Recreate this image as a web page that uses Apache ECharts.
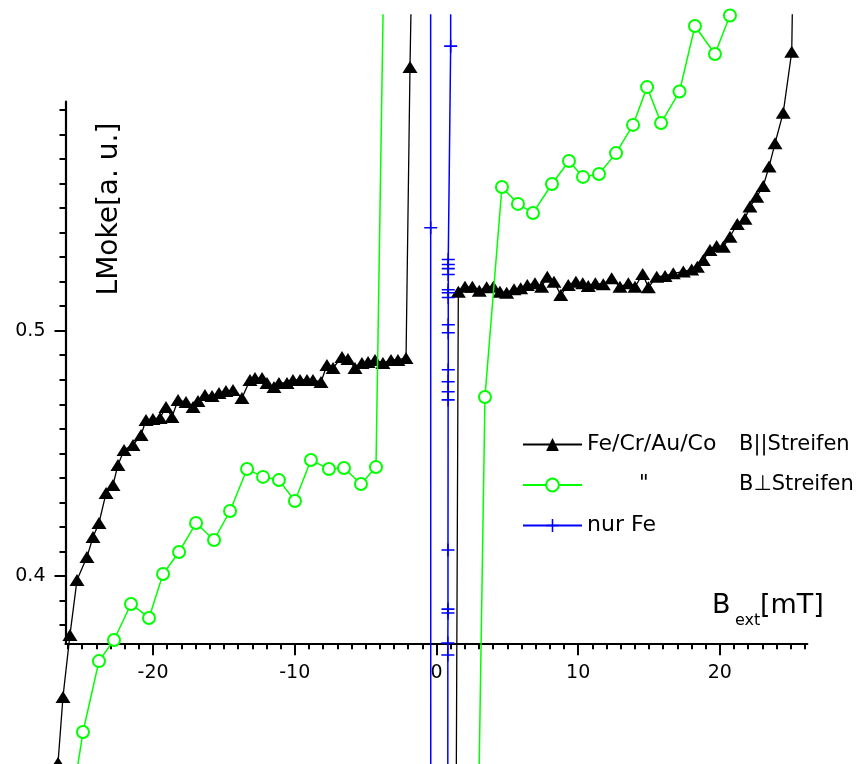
<!DOCTYPE html>
<html><head><meta charset="utf-8">
<script src="https://cdn.jsdelivr.net/npm/echarts@6/dist/echarts.min.js"></script>
<style>html,body{margin:0;padding:0;background:#fff}#c{width:859px;height:764px}</style>
</head><body><div id="c"></div>
<script>
// ---------- data ----------
// Fe/Cr/Au/Co, B || Streifen : branch at negative field
const fecrLeftX = [-28.33, -26.71, -26.36, -25.87, -25.37, -24.67, -24.24, -23.82, -23.32, -22.83, -22.48, -22.05, -21.42, -20.85, -20.50, -20.01, -19.51, -19.09, -18.67, -18.24, -17.68, -17.18, -16.83, -16.34, -15.84, -15.35, -14.86, -14.36, -13.73, -13.16, -12.81, -12.31, -11.96, -11.47, -11.12, -10.55, -10.13, -9.63, -9.14, -8.72, -8.15, -7.73, -7.30, -6.67, -6.25, -5.75, -5.26, -4.83, -4.34, -3.78, -3.21, -2.72, -2.15, -1.87, -1.59];
const fecrLeftY = [0.20, 0.3238, 0.3507, 0.3759, 0.3984, 0.4077, 0.4159, 0.4216, 0.4338, 0.4371, 0.4453, 0.4514, 0.4534, 0.4575, 0.4636, 0.4640, 0.4644, 0.4689, 0.4648, 0.4717, 0.4709, 0.4689, 0.4713, 0.4738, 0.4734, 0.4746, 0.4754, 0.4758, 0.4726, 0.4799, 0.4807, 0.4807, 0.4787, 0.4770, 0.4787, 0.4787, 0.4799, 0.4799, 0.4799, 0.4799, 0.4791, 0.4860, 0.4848, 0.4893, 0.4885, 0.4848, 0.4868, 0.4872, 0.4881, 0.4868, 0.4881, 0.4881, 0.4889, 0.6075, 0.70];
// Fe/Cr/Au/Co, B || Streifen : branch at positive field
const fecrRightX = [1.31, 1.54, 2.01, 2.53, 3.02, 3.54, 4.01, 4.48, 4.95, 5.47, 5.94, 6.41, 6.95, 7.42, 7.82, 8.29, 8.77, 9.30, 9.84, 10.32, 10.71, 11.21, 11.77, 12.36, 12.95, 13.54, 14.01, 14.55, 14.95, 15.54, 16.13, 16.71, 17.42, 18.01, 18.41, 18.83, 19.30, 19.77, 20.24, 20.71, 21.23, 21.77, 22.12, 22.60, 23.06, 23.47, 23.89, 24.47, 25.07, 25.29];
const fecrRightY = [0.20, 0.5159, 0.5179, 0.5179, 0.5163, 0.5177, 0.5179, 0.5159, 0.5155, 0.5169, 0.5173, 0.5186, 0.5193, 0.5179, 0.5220, 0.5200, 0.5146, 0.5186, 0.5200, 0.5193, 0.5182, 0.5193, 0.5189, 0.5214, 0.5179, 0.5193, 0.5179, 0.5231, 0.5177, 0.5220, 0.5223, 0.5234, 0.5241, 0.5250, 0.5261, 0.5288, 0.5329, 0.5345, 0.5342, 0.5383, 0.5435, 0.5456, 0.5506, 0.5546, 0.5590, 0.5669, 0.5764, 0.5889, 0.6137, 0.70];
// Fe/Cr/Au/Co, B ⊥ Streifen
const perpLeftX = [-28.64, -24.95, -23.82, -22.76, -21.56, -20.29, -19.30, -18.17, -16.97, -15.70, -14.57, -13.37, -12.24, -11.12, -9.99, -8.86, -7.59, -6.53, -5.33, -4.27, -3.58];
const perpLeftY = [0.20, 0.3364, 0.3653, 0.3739, 0.3886, 0.3829, 0.4008, 0.4098, 0.4216, 0.4147, 0.4265, 0.4436, 0.4404, 0.4391, 0.4306, 0.4473, 0.4436, 0.4440, 0.4375, 0.4444, 0.70];
const perpRightX = [2.68, 3.42, 4.62, 5.75, 6.81, 8.15, 9.35, 10.34, 11.47, 12.67, 13.87, 14.86, 15.85, 17.15, 18.24, 19.65, 20.71];
const perpRightY = [0.20, 0.4730, 0.5586, 0.5517, 0.5480, 0.5598, 0.5692, 0.5627, 0.5639, 0.5724, 0.5839, 0.5993, 0.5847, 0.5975, 0.6242, 0.6128, 0.6285];
// nur Fe
const feX = [-0.42, -0.41, -0.40, 0.79, 0.80, 0.80, 0.81, 0.81, 0.81, 0.82, 0.82, 0.82, 0.83, 0.83, 0.83, 0.83, 0.83, 0.83, 0.83, 0.83, 0.83, 0.83, 1.00, 1.00];
const feY = [0.90, 0.542, 0.10, 0.10, 0.3678, 0.3727, 0.3849, 0.3865, 0.4106, 0.4718, 0.4751, 0.4792, 0.4841, 0.4992, 0.5024, 0.5135, 0.5155, 0.5167, 0.5229, 0.5253, 0.527, 0.529, 0.616, 0.90];

// tick labels
const xTickLabels = [-20, -10, 0, 10, 20];
const yTickLabels = [0.4, 0.5];
const seriesNames = ['Fe/Cr/Au/Co  B||Streifen', '"  B\u22A5Streifen', 'nur Fe'];
const legendLeftText = ['Fe/Cr/Au/Co', '"', 'nur Fe'];
const legendRightText = ['B||Streifen', 'B\u22A5Streifen', ''];

// ---------- layout ----------
const X_MIN_AX = -26.18, X_MAX_AX = 26.17;
const Y_MIN_AX = 0.37256, Y_MAX_AX = 0.59336;
const X_MIN_DATA = -30.805, X_MAX_DATA = 29.817;
const Y_MIN_DATA = 0.32336, Y_MAX_DATA = 0.6287;

const xMinorTicks = []; for (let v = -26; v <= 26; v++) xMinorTicks.push(v);
const yMinorTicks = []; for (let k = 38; k <= 59; k++) yMinorTicks.push(k / 100);

const zip = (xs, ys) => xs.map((x, i) => [x, ys[i]]);
const FONT = 'DejaVu Sans';
const PLUS = 'path://M0,4.4H10V5.6H0Z M4.4,0H5.6V10H4.4Z';

const axGrid = {left: 65.5, right: 51.7, top: 101.7, bottom: 120.7};

const blackStyle = {
  type: 'line', xAxisIndex: 0, yAxisIndex: 0, symbol: 'triangle', symbolSize: [15, 12],
  lineStyle: {color: '#000', width: 1.3}, itemStyle: {color: '#000'}, clip: true, z: 3
};
const greenStyle = {
  type: 'line', xAxisIndex: 0, yAxisIndex: 0, symbol: 'emptyCircle', symbolSize: 12,
  lineStyle: {color: '#00ff00', width: 1.5}, itemStyle: {color: '#00ff00', borderWidth: 1.6}, clip: true, z: 4
};
const blueStyle = {
  type: 'line', xAxisIndex: 0, yAxisIndex: 0, symbol: PLUS, symbolSize: 13,
  lineStyle: {color: '#0000ff', width: 1.5}, itemStyle: {color: '#0000ff'}, clip: true, z: 5
};

const option = {
  animation: false,
  backgroundColor: '#fff',
  grid: [
    {left: 0, right: 0, top: 15, bottom: 0},
    axGrid,
    axGrid
  ],
  xAxis: [
    {gridIndex: 0, type: 'value', min: X_MIN_DATA, max: X_MAX_DATA, show: false},
    {gridIndex: 1, type: 'value', min: X_MIN_AX, max: X_MAX_AX, position: 'bottom',
      axisLine: {onZero: false, lineStyle: {color: '#000', width: 2.2}},
      axisTick: {customValues: xTickLabels, length: 12, lineStyle: {color: '#000', width: 2}},
      axisLabel: {customValues: xTickLabels, margin: 20, color: '#000', fontFamily: FONT, fontSize: 19},
      splitLine: {show: false}},
    {gridIndex: 2, type: 'value', min: X_MIN_AX, max: X_MAX_AX, position: 'bottom',
      axisLine: {show: false, onZero: false},
      axisTick: {customValues: xMinorTicks, length: 6, lineStyle: {color: '#000', width: 2}},
      axisLabel: {show: false}, splitLine: {show: false}}
  ],
  yAxis: [
    {gridIndex: 0, type: 'value', min: Y_MIN_DATA, max: Y_MAX_DATA, show: false},
    {gridIndex: 1, type: 'value', min: Y_MIN_AX, max: Y_MAX_AX, position: 'left',
      axisLine: {show: true, onZero: false, lineStyle: {color: '#000', width: 2.2}},
      axisTick: {show: true, customValues: yTickLabels, length: 11, lineStyle: {color: '#000', width: 2}},
      axisLabel: {customValues: yTickLabels, margin: 20, color: '#000', fontFamily: FONT, fontSize: 19},
      splitLine: {show: false}},
    {gridIndex: 2, type: 'value', min: Y_MIN_AX, max: Y_MAX_AX, position: 'left',
      axisLine: {show: false, onZero: false},
      axisTick: {show: true, customValues: yMinorTicks, length: 6, lineStyle: {color: '#000', width: 2}},
      axisLabel: {show: false}, splitLine: {show: false}}
  ],
  legend: {
    data: seriesNames,
    orient: 'vertical', left: 522, top: 433.5, padding: 0,
    itemGap: 19, itemWidth: 59, itemHeight: 16, selectedMode: false,
    textStyle: {
      fontFamily: FONT, fontSize: 21, color: '#000',
      rich: {
        a: {fontFamily: FONT, fontSize: 22, color: '#000', width: 152, lineHeight: 22},
        s: {fontFamily: FONT, fontSize: 21, color: '#000', width: 52, lineHeight: 22},
        q: {fontFamily: FONT, fontSize: 21, color: '#000', width: 100, lineHeight: 22},
        b: {fontFamily: FONT, fontSize: 21, color: '#000', lineHeight: 22},
        c: {fontFamily: FONT, fontSize: 22, color: '#000', lineHeight: 22}
      }
    },
    formatter: function (name) {
      const i = seriesNames.indexOf(name);
      if (i === 0) return '{a|' + legendLeftText[0] + '}{b|' + legendRightText[0] + '}';
      if (i === 1) return '{s| }{q|' + legendLeftText[1] + '}{b|' + legendRightText[1] + '}';
      return '{c|' + legendLeftText[2] + '}';
    }
  },
  graphic: [
    {type: 'text', x: 110, y: 209, rotation: Math.PI / 2, silent: true,
      style: {text: 'LMoke[a. u.]', fontFamily: FONT, fontSize: 28, fill: '#000', align: 'center', verticalAlign: 'middle'}},
    {type: 'text', x: 712, y: 606, silent: true,
      style: {text: 'B', fontFamily: FONT, fontSize: 27, fill: '#000', align: 'left', verticalAlign: 'middle'}},
    {type: 'text', x: 735, y: 621, silent: true,
      style: {text: 'ext', fontFamily: FONT, fontSize: 16, fill: '#000', align: 'left', verticalAlign: 'middle'}},
    {type: 'text', x: 760, y: 606, silent: true,
      style: {text: '[mT]', fontFamily: FONT, fontSize: 27, fill: '#000', align: 'left', verticalAlign: 'middle'}}
  ],
  series: [
    Object.assign({name: seriesNames[0], data: zip(fecrLeftX, fecrLeftY)}, blackStyle),
    Object.assign({name: seriesNames[0], data: zip(fecrRightX, fecrRightY)}, blackStyle),
    Object.assign({name: seriesNames[1], data: zip(perpLeftX, perpLeftY)}, greenStyle),
    Object.assign({name: seriesNames[1], data: zip(perpRightX, perpRightY)}, greenStyle),
    Object.assign({name: seriesNames[2], data: zip(feX, feY)}, blueStyle)
  ]
};

const chart = echarts.init(document.getElementById('c'), null, {renderer: 'canvas', width: 859, height: 764});
chart.setOption(option);
</script>
</body></html>
